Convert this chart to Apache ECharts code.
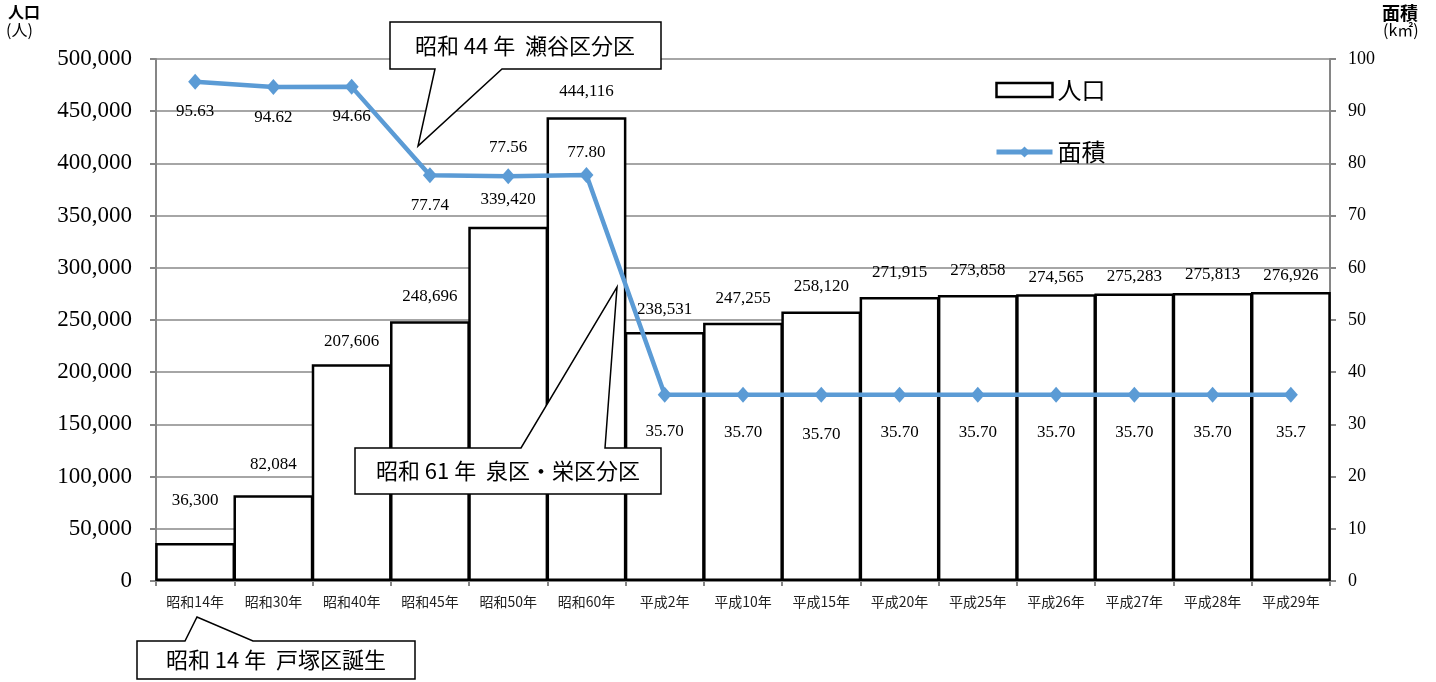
<!DOCTYPE html>
<html><head><meta charset="utf-8">
<script src="https://cdn.jsdelivr.net/npm/echarts@6/dist/echarts.min.js"></script>
<style>html,body{margin:0;padding:0;background:#fff}#c{width:1436px;height:682px}</style>
</head><body><div id="c"></div>
<script>
const categories = ["昭和14年","昭和30年","昭和40年","昭和45年","昭和50年","昭和60年","平成2年","平成10年","平成15年","平成20年","平成25年","平成26年","平成27年","平成28年","平成29年"];
const population = [36300, 82084, 207606, 248696, 339420, 444116, 238531, 247255, 258120, 271915, 273858, 274565, 275283, 275813, 276926];
const area = [95.63, 94.62, 94.66, 77.74, 77.56, 77.80, 35.70, 35.70, 35.70, 35.70, 35.70, 35.70, 35.70, 35.70, 35.70];
const areaLabels = ["95.63","94.62","94.66","77.74","77.56","77.80","35.70","35.70","35.70","35.70","35.70","35.70","35.70","35.70","35.7"];
const callouts = ["昭和 44 年  瀬谷区分区", "昭和 61 年  泉区・栄区分区", "昭和 14 年  戸塚区誕生"];

// label layout tweaks (styling only)
const popLabelGap = [34,22,14,16,19,17,14,16,16,16,16,8,9,10,8];
const areaLabelPos = ['bottom','bottom','bottom','bottom','top','top','bottom','bottom','bottom','bottom','bottom','bottom','bottom','bottom','bottom'];
const areaLabelGap = [13,14,13,14,12,6,20,21,23,21,21,21,21,21,21];

const SERIF = "'Liberation Serif', serif";
const JP = "'Noto Sans CJK JP', sans-serif";
const fmt = v => v.toLocaleString('en-US');

const chart = echarts.init(document.getElementById('c'));

function callout(points, text, tx, ty) {
  return [
    { type:'polygon', z:100, shape:{ points }, style:{ fill:'#fff', stroke:'#000', lineWidth:1.5 } },
    { type:'text', z:101, x:tx, y:ty, style:{ text, fill:'#000', font:"22px 'Noto Sans CJK JP'", align:'center', verticalAlign:'middle' } }
  ];
}

chart.setOption({
  animation:false,
  grid:{ left:156, right:106, top:59, bottom:101, containLabel:false },
  legend:{
    orient:'vertical', left:989, top:73, itemWidth:56, itemHeight:14, itemGap:38,
    textStyle:{ fontSize:24, fontFamily:JP, color:'#000' },
    data:[ { name:'人口', icon:'rect', itemStyle:{ borderWidth:2.5 } },
           { name:'面積', lineStyle:{ width:5, color:'#5B9BD5' } } ]
  },
  xAxis:{
    type:'category', data:categories,
    axisLine:{ lineStyle:{ color:'#868686', width:2 } },
    axisTick:{ show:true, length:5, lineStyle:{ color:'#868686', width:2 } },
    axisLabel:{ fontSize:14, fontFamily:JP, color:'#222', margin:14, interval:0 }
  },
  yAxis:[
    { type:'value', min:0, max:500000, interval:50000,
      axisLine:{ show:true, lineStyle:{ color:'#868686', width:2 } },
      axisTick:{ show:true, length:6, lineStyle:{ color:'#868686', width:2 } },
      axisLabel:{ fontSize:23, fontFamily:SERIF, color:'#000', margin:24, formatter: v => fmt(v) },
      splitLine:{ lineStyle:{ color:'#a6a6a6', width:2 } } },
    { type:'value', min:0, max:100, interval:10,
      axisLine:{ show:true, lineStyle:{ color:'#868686', width:2 } },
      axisTick:{ show:true, length:6, lineStyle:{ color:'#868686', width:2 } },
      axisLabel:{ fontSize:18, fontFamily:SERIF, color:'#000', margin:18 },
      splitLine:{ show:false } }
  ],
  series:[
    { name:'人口', type:'bar', yAxisIndex:0, barWidth:'102%',
      itemStyle:{ color:'#fff', borderColor:'#000', borderWidth:2.5 },
      label:{ show:true, position:'top', fontSize:17, fontFamily:SERIF, color:'#000', formatter: p => fmt(p.value) },
      data: population.map((v,i)=>({ value:v, label:{ distance:popLabelGap[i] } })) },
    { name:'面積', type:'line', yAxisIndex:1, z:5,
      symbol:'diamond', symbolSize:[14,16],
      lineStyle:{ color:'#5B9BD5', width:4.5 },
      itemStyle:{ color:'#5B9BD5' },
      label:{ show:true, fontSize:17, fontFamily:SERIF, color:'#000' },
      data: area.map((v,i)=>({ value:v, label:{ position:areaLabelPos[i], distance:areaLabelGap[i], formatter: areaLabels[i] } })) }
  ],
  graphic:[
    { type:'text', left:8, top:4, style:{ text:'人口', fill:'#000', font:"bold 16px 'Noto Sans CJK JP'" } },
    { type:'text', left:6, top:22, style:{ text:'(人)', fill:'#000', font:"16px 'Noto Sans CJK JP'" } },
    { type:'text', left:1382, top:4, style:{ text:'面積', fill:'#000', font:"bold 18px 'Noto Sans CJK JP'" } },
    { type:'text', left:1383, top:22, style:{ text:'(k㎡)', fill:'#000', font:"16px 'Noto Sans CJK JP'" } },
    ...callout([[390,22],[661,22],[661,69],[502,69],[418,146],[435,69],[390,69]], callouts[0], 525, 46),
    ...callout([[355,448],[521,448],[617,287],[605,448],[661,448],[661,494],[355,494]], callouts[1], 508, 471),
    ...callout([[137,641],[185,641],[197,617],[253,641],[415,641],[415,679],[137,679]], callouts[2], 276, 660)
  ]
});
</script></body></html>
